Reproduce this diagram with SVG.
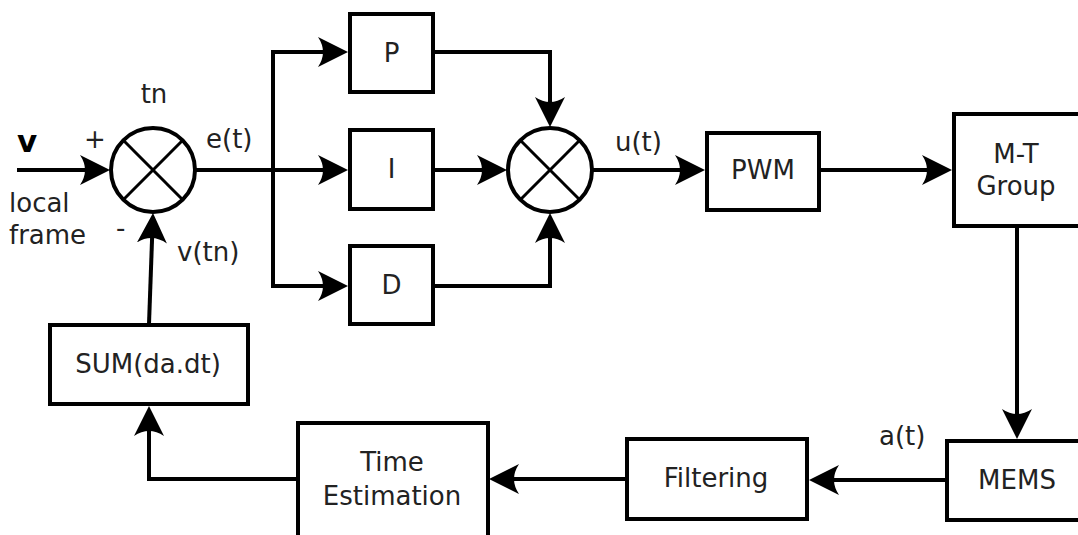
<svg xmlns="http://www.w3.org/2000/svg" width="1078" height="535" viewBox="0 0 1078 535">
  <style>
    .box { fill: #fff; stroke: #000; stroke-width: 4; }
    .sum { fill: #fff; stroke: #000; stroke-width: 4; }
    .x { stroke: #000; stroke-width: 3; }
    .wire { fill: none; stroke: #000; stroke-width: 4; }
    .arrow { fill: none; stroke: #000; stroke-width: 4; marker-end: url(#head); }
    text { font-family: "DejaVu Sans", "Liberation Sans", sans-serif; font-size: 26px; fill: #222; }
    .mid { text-anchor: middle; }
    .bold { font-weight: bold; font-size: 31px; fill: #000; }
  </style>
  <defs>
    <marker id="head" markerUnits="userSpaceOnUse" markerWidth="32" markerHeight="34"
            viewBox="0 -17 32 34" refX="19" refY="0" orient="auto">
      <path d="M30,0 L0,-15 Q10,0 0,15 Z" fill="#000"/>
    </marker>
  </defs>

  <!-- connectors -->
  <g id="connectors">
    <line class="arrow" x1="17" y1="170" x2="99" y2="170"/>
    <line class="wire" x1="196" y1="170" x2="273" y2="170"/>
    <polyline class="wire" points="273,286 273,52"/>
    <line class="arrow" x1="271" y1="52" x2="337" y2="52"/>
    <line class="arrow" x1="273" y1="170" x2="337" y2="170"/>
    <line class="arrow" x1="271" y1="286" x2="337" y2="286"/>
    <polyline class="arrow" points="435,52 550,52 550,116"/>
    <line class="arrow" x1="435" y1="170" x2="496" y2="170"/>
    <polyline class="arrow" points="435,286 550,286 550,224"/>
    <line class="arrow" x1="593" y1="170" x2="694" y2="170"/>
    <line class="arrow" x1="821" y1="170" x2="941" y2="170"/>
    <line class="arrow" x1="1017" y1="228" x2="1017" y2="428"/>
    <line class="arrow" x1="946" y1="480" x2="820" y2="480"/>
    <line class="arrow" x1="625" y1="479" x2="500" y2="479"/>
    <polyline class="arrow" points="297,479 149,479 149,417"/>
    <line class="arrow" x1="149" y1="324" x2="152.6" y2="224"/>
  </g>

  <!-- first summing junction -->
  <g id="sum-error">
    <circle class="sum" cx="153" cy="170" r="42"/>
    <line class="x" x1="123.3" y1="140.3" x2="182.7" y2="199.7"/>
    <line class="x" x1="182.7" y1="140.3" x2="123.3" y2="199.7"/>
  </g>

  <!-- second summing junction -->
  <g id="sum-pid">
    <circle class="sum" cx="550" cy="170" r="42"/>
    <line class="x" x1="520.3" y1="140.3" x2="579.7" y2="199.7"/>
    <line class="x" x1="579.7" y1="140.3" x2="520.3" y2="199.7"/>
  </g>

  <g id="block-p">
    <rect class="box" x="350" y="14" width="83" height="78"/>
    <text class="mid" x="391.5" y="62">P</text>
  </g>
  <g id="block-i">
    <rect class="box" x="350" y="130" width="83" height="79"/>
    <text class="mid" x="391.5" y="178">I</text>
  </g>
  <g id="block-d">
    <rect class="box" x="350" y="246" width="83" height="78"/>
    <text class="mid" x="391.5" y="294">D</text>
  </g>
  <g id="block-pwm">
    <rect class="box" x="707" y="133" width="112" height="77"/>
    <text class="mid" x="763" y="179">PWM</text>
  </g>
  <g id="block-mt">
    <rect class="box" x="954" y="114" width="140" height="112"/>
    <text class="mid" x="1016" y="163">M-T</text>
    <text class="mid" x="1016" y="195">Group</text>
  </g>
  <g id="block-mems">
    <rect class="box" x="947" y="441" width="140" height="79"/>
    <text class="mid" x="1017" y="489">MEMS</text>
  </g>
  <g id="block-filtering">
    <rect class="box" x="627" y="439" width="180" height="80"/>
    <text class="mid" x="716" y="487">Filtering</text>
  </g>
  <g id="block-time">
    <rect class="box" x="298" y="423" width="190" height="130"/>
    <text class="mid" x="392" y="471">Time</text>
    <text class="mid" x="392" y="505">Estimation</text>
  </g>
  <g id="block-sum">
    <rect class="box" x="50" y="325" width="198" height="79"/>
    <text class="mid" x="148" y="373">SUM(da.dt)</text>
  </g>

  <!-- signal labels -->
  <g id="labels">
    <text class="bold" x="17" y="152">v</text>
    <text x="9" y="212">local</text>
    <text x="9" y="244">frame</text>
    <text x="84" y="148">+</text>
    <text x="116" y="237">-</text>
    <text class="mid" x="154" y="103">tn</text>
    <text x="206" y="148">e(t)</text>
    <text x="177" y="261">v(tn)</text>
    <text x="615" y="151">u(t)</text>
    <text x="879" y="445">a(t)</text>
  </g>
</svg>
